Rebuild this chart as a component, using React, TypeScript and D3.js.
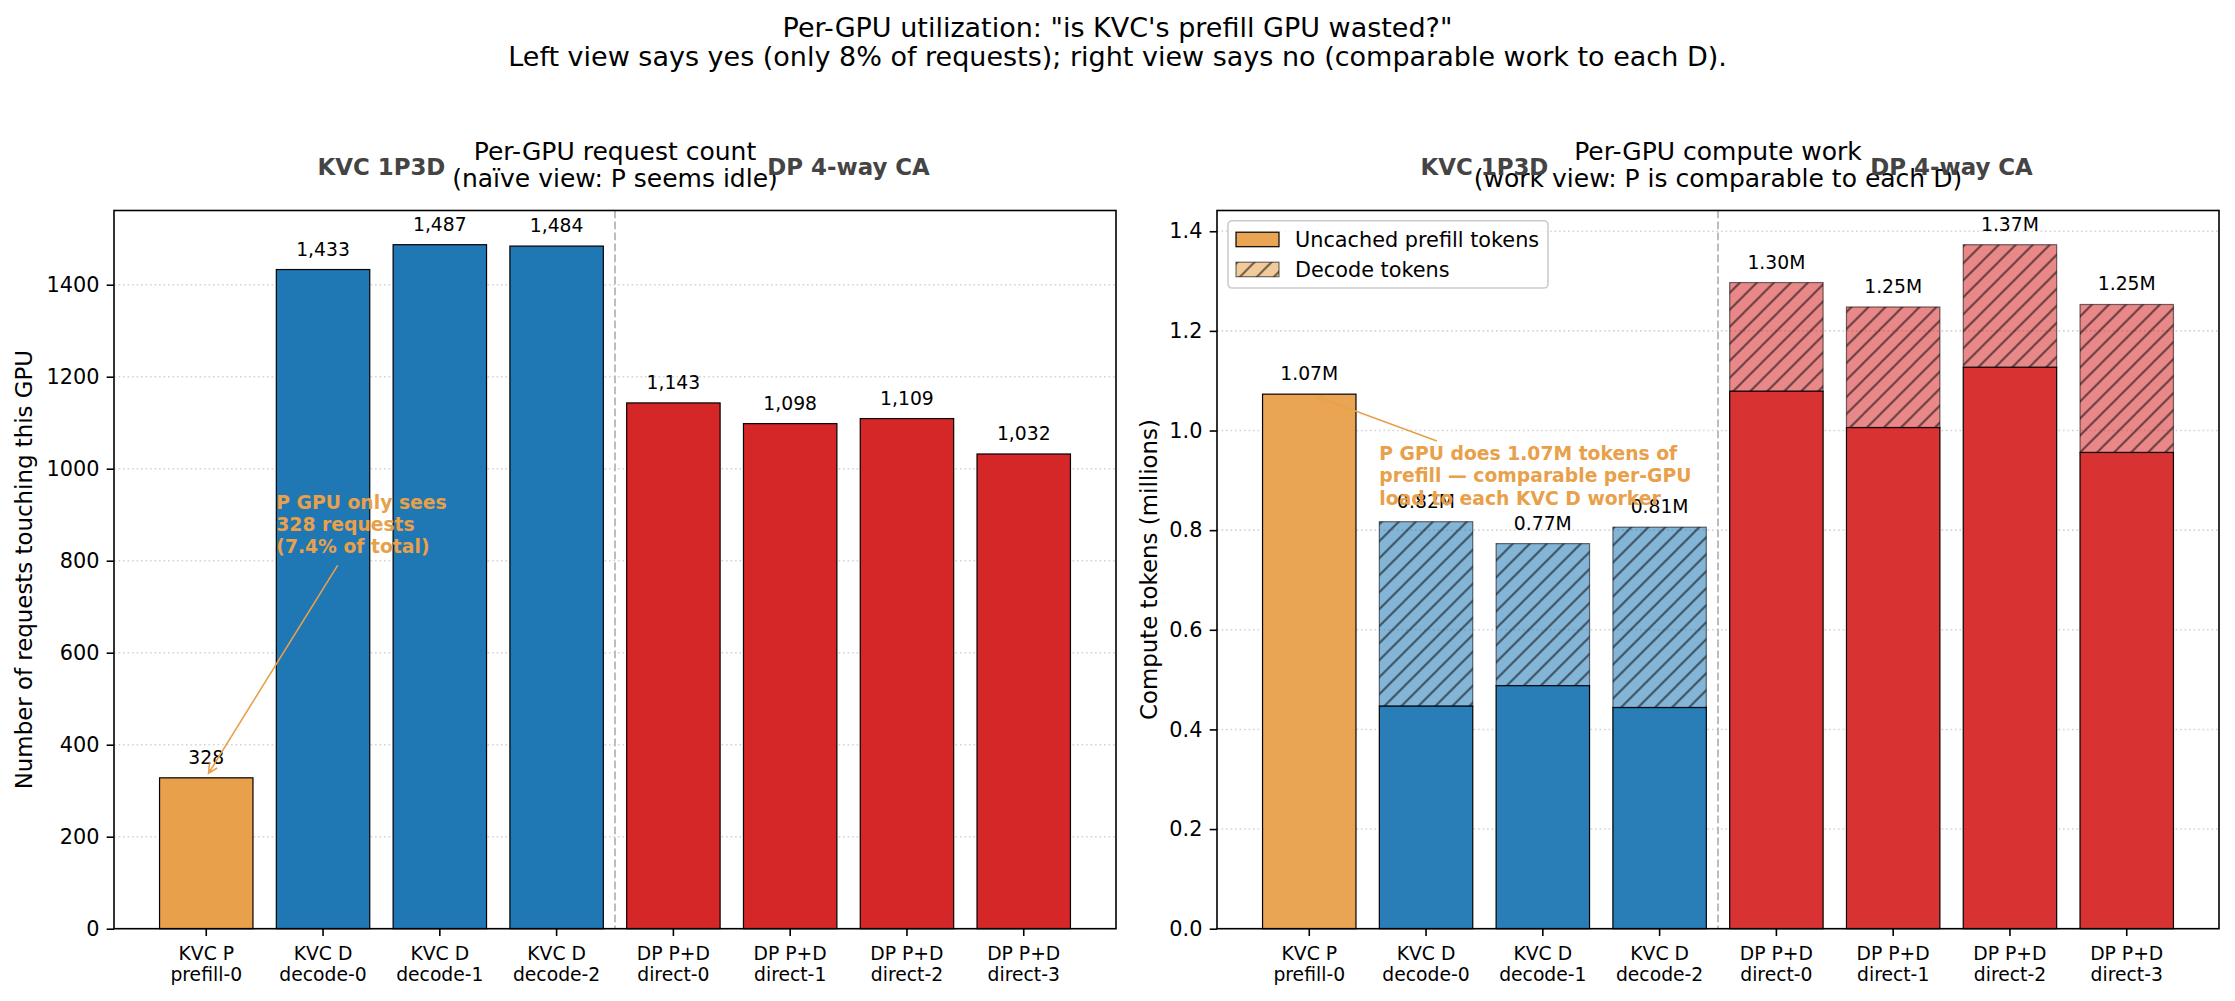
import React, { useEffect, useRef } from 'react';
import * as d3 from 'd3';

// workers, in plotting order
const tickTop = ['KVC P', 'KVC D', 'KVC D', 'KVC D', 'DP P+D', 'DP P+D', 'DP P+D', 'DP P+D'];
const tickBottom = ['prefill-0', 'decode-0', 'decode-1', 'decode-2', 'direct-0', 'direct-1', 'direct-2', 'direct-3'];
const workerKind = ['prefill', 'decode', 'decode', 'decode', 'direct', 'direct', 'direct', 'direct'];

// requests that touched each GPU
const requestCounts = [328, 1433, 1487, 1484, 1143, 1098, 1109, 1032];
const prefillSharePct = 7.4;

// compute work per GPU, millions of tokens
const prefillTokensM = [1.073, 0.447, 0.488, 0.444, 1.079, 1.006, 1.127, 0.956];
const decodeTokensM = [0, 0.37, 0.285, 0.362, 0.218, 0.242, 0.246, 0.297];

const requestTicks = [0, 200, 400, 600, 800, 1000, 1200, 1400];
const tokenTicks = [0, 0.2, 0.4, 0.6, 0.8, 1.0, 1.2, 1.4];

const kindColor: Record<string, string> = {
  prefill: '#e8a04a',
  decode: '#1f77b4',
  direct: '#d62728',
};
const ORANGE = '#e8a04a';
const FONT = '"DejaVu Sans", Verdana, sans-serif';

const W = 2235;
const H = 1001;
const panelTop = 210.5;
const panelH = 718.2;
const panelW = 1002;
const leftX0 = 114;
const rightX0 = 1217;

const App = () => {
  const ref = useRef<SVGSVGElement>(null);

  useEffect(() => {
    const svg = d3.select(ref.current);
    svg.selectAll('*').remove();

    svg.append('rect').attr('width', W).attr('height', H).attr('fill', '#fff');

    const defs = svg.append('defs');
    const hatch = defs
      .append('pattern')
      .attr('id', 'hatch')
      .attr('patternUnits', 'userSpaceOnUse')
      .attr('width', 17)
      .attr('height', 17);
    hatch
      .append('path')
      .attr('d', 'M-4,4 L4,-4 M0,17 L17,0 M13,21 L21,13')
      .attr('stroke', '#000')
      .attr('stroke-opacity', 0.55)
      .attr('stroke-width', 2);

    const x = d3.scaleLinear().domain([-0.79, 7.79]).range([0, panelW]);
    const bw = x(0.8) - x(0);
    const idx = d3.range(tickTop.length);

    // figure title
    const title = svg
      .append('text')
      .attr('x', W / 2)
      .attr('text-anchor', 'middle')
      .attr('font-family', FONT)
      .attr('font-size', 27)
      .attr('fill', '#000');
    title.append('tspan').attr('x', W / 2).attr('y', 37).text('Per-GPU utilization: "is KVC\'s prefill GPU wasted?"');
    title
      .append('tspan')
      .attr('x', W / 2)
      .attr('y', 66)
      .text('Left view says yes (only 8% of requests); right view says no (comparable work to each D).');

    const arrow = (
      g: d3.Selection<SVGGElement, unknown, null, undefined>,
      x1: number,
      y1: number,
      x2: number,
      y2: number,
    ) => {
      const a = Math.atan2(y2 - y1, x2 - x1);
      const hl = 9;
      const hw = 4.5;
      const p1 = [x2 - hl * Math.cos(a) + hw * Math.sin(a), y2 - hl * Math.sin(a) - hw * Math.cos(a)];
      const p2 = [x2 - hl * Math.cos(a) - hw * Math.sin(a), y2 - hl * Math.sin(a) + hw * Math.cos(a)];
      g.append('path')
        .attr('d', `M${x1},${y1}L${x2},${y2}M${p1[0]},${p1[1]}L${x2},${y2}L${p2[0]},${p2[1]}`)
        .attr('fill', 'none')
        .attr('stroke', ORANGE)
        .attr('stroke-width', 1.6);
    };

    const panel = (
      left: number,
      y: d3.ScaleLinear<number, number>,
      ticks: number[],
      tickFmt: (v: number) => string,
      ylabel: string,
      ylabelX: number,
      titleLines: string[],
    ) => {
      const g = svg.append('g').attr('transform', `translate(${left},${panelTop})`);

      // dotted horizontal grid
      g.append('g')
        .selectAll('line')
        .data(ticks)
        .join('line')
        .attr('x1', 0)
        .attr('x2', panelW)
        .attr('y1', (d) => y(d))
        .attr('y2', (d) => y(d))
        .attr('stroke', '#d6d6d6')
        .attr('stroke-width', 1.6)
        .attr('stroke-dasharray', '1.7,2.8');

      // titles
      const t = g
        .append('text')
        .attr('text-anchor', 'middle')
        .attr('font-family', FONT)
        .attr('font-size', 25)
        .attr('fill', '#000');
      titleLines.forEach((line, i) => {
        t.append('tspan')
          .attr('x', panelW / 2)
          .attr('y', 160 + i * 27 - panelTop)
          .text(line);
      });

      // y label
      svg
        .append('text')
        .attr('transform', `translate(${ylabelX},${panelTop + panelH / 2}) rotate(-90)`)
        .attr('text-anchor', 'middle')
        .attr('dominant-baseline', 'central')
        .attr('font-family', FONT)
        .attr('font-size', 22.9)
        .text(ylabel);

      // y axis ticks
      const yAxis = g
        .append('g')
        .call(
          d3
            .axisLeft(y)
            .tickValues(ticks)
            .tickFormat((d) => tickFmt(d as number))
            .tickSize(7.3)
            .tickPadding(7.3)
            .tickSizeOuter(0),
        );
      yAxis.select('.domain').remove();
      yAxis.selectAll('line').attr('stroke', '#000').attr('stroke-width', 1.6);
      yAxis.selectAll('text').attr('font-family', FONT).attr('font-size', 20.8).attr('fill', '#000');

      // x axis ticks with two-line labels
      const xTicks = g.append('g').attr('transform', `translate(0,${panelH})`);
      xTicks
        .selectAll('line')
        .data(idx)
        .join('line')
        .attr('x1', (d) => x(d))
        .attr('x2', (d) => x(d))
        .attr('y1', 0)
        .attr('y2', 7.3)
        .attr('stroke', '#000')
        .attr('stroke-width', 1.6);
      const xt = xTicks
        .selectAll('text')
        .data(idx)
        .join('text')
        .attr('text-anchor', 'middle')
        .attr('font-family', FONT)
        .attr('font-size', 18.75)
        .attr('fill', '#000');
      xt.append('tspan')
        .attr('x', (d) => x(d))
        .attr('y', 31.5)
        .text((d) => tickTop[d]);
      xt.append('tspan')
        .attr('x', (d) => x(d))
        .attr('y', 52.5)
        .text((d) => tickBottom[d]);

      // group headers over each deployment
      const groups = [
        { label: 'KVC 1P3D', at: 1.5 },
        { label: 'DP 4-way CA', at: 5.5 },
      ];
      g.append('g')
        .selectAll('text')
        .data(groups)
        .join('text')
        .attr('x', (d) => x(d.at))
        .attr('y', 175 - panelTop)
        .attr('text-anchor', 'middle')
        .attr('font-family', FONT)
        .attr('font-size', 22.9)
        .attr('font-weight', 'bold')
        .attr('fill', '#444')
        .text((d) => d.label);

      return g;
    };

    const separator = (g: d3.Selection<SVGGElement, unknown, null, undefined>) => {
      // dashed divider between KVC and DP workers
      g.append('line')
        .attr('x1', x(3.5))
        .attr('x2', x(3.5))
        .attr('y1', 0)
        .attr('y2', panelH)
        .attr('stroke', '#bdbdbd')
        .attr('stroke-width', 2)
        .attr('stroke-dasharray', '7.7,3.3');
    };

    const frame = (g: d3.Selection<SVGGElement, unknown, null, undefined>) => {
      g.append('rect')
        .attr('width', panelW)
        .attr('height', panelH)
        .attr('fill', 'none')
        .attr('stroke', '#000')
        .attr('stroke-width', 1.6);
    };

    // ---------- left: request count ----------
    const yL = d3
      .scaleLinear()
      .domain([0, (d3.max(requestCounts) as number) * 1.05])
      .range([panelH, 0]);
    const gL = panel(
      leftX0,
      yL,
      requestTicks,
      (v) => String(v),
      'Number of requests touching this GPU',
      24,
      ['Per-GPU request count', '(naïve view: P seems idle)'],
    );
    separator(gL);

    gL.append('g')
      .selectAll('rect')
      .data(idx)
      .join('rect')
      .attr('x', (d) => x(d) - bw / 2)
      .attr('y', (d) => yL(requestCounts[d]))
      .attr('width', bw)
      .attr('height', (d) => panelH - yL(requestCounts[d]))
      .attr('fill', (d) => kindColor[workerKind[d]])
      .attr('stroke', '#000')
      .attr('stroke-width', 1.2);

    gL.append('g')
      .selectAll('text')
      .data(idx)
      .join('text')
      .attr('x', (d) => x(d))
      .attr('y', (d) => yL(requestCounts[d]) - 14)
      .attr('text-anchor', 'middle')
      .attr('font-family', FONT)
      .attr('font-size', 18.75)
      .text((d) => d3.format(',')(requestCounts[d]));

    const noteL = gL
      .append('text')
      .attr('font-family', FONT)
      .attr('font-size', 18.75)
      .attr('font-weight', 'bold')
      .attr('fill', ORANGE);
    [
      'P GPU only sees',
      `${requestCounts[0]} requests`,
      `(${prefillSharePct.toFixed(1)}% of total)`,
    ].forEach((line, i) => {
      noteL
        .append('tspan')
        .attr('x', x(0.6))
        .attr('y', yL(912) + i * 22)
        .text(line);
    });
    arrow(gL, x(1.125), yL(790), x(0.02), yL(338));
    frame(gL);

    // ---------- right: compute work ----------
    const totals = idx.map((i) => prefillTokensM[i] + decodeTokensM[i]);
    const yR = d3
      .scaleLinear()
      .domain([0, (d3.max(totals) as number) * 1.05])
      .range([panelH, 0]);
    const gR = panel(
      rightX0,
      yR,
      tokenTicks,
      (v) => v.toFixed(1),
      'Compute tokens (millions)',
      1149,
      ['Per-GPU compute work', '(work view: P is comparable to each D)'],
    );
    separator(gR);

    // prefill segments
    gR.append('g')
      .selectAll('rect')
      .data(idx)
      .join('rect')
      .attr('x', (d) => x(d) - bw / 2)
      .attr('y', (d) => yR(prefillTokensM[d]))
      .attr('width', bw)
      .attr('height', (d) => panelH - yR(prefillTokensM[d]))
      .attr('fill', (d) => kindColor[workerKind[d]])
      .attr('fill-opacity', 0.95)
      .attr('stroke', '#000')
      .attr('stroke-width', 1.2);

    // decode segments stacked on top, hatched
    const withDecode = idx.filter((i) => decodeTokensM[i] > 0);
    const dec = gR.append('g');
    dec
      .selectAll('rect.fill')
      .data(withDecode)
      .join('rect')
      .attr('class', 'fill')
      .attr('x', (d) => x(d) - bw / 2)
      .attr('y', (d) => yR(totals[d]))
      .attr('width', bw)
      .attr('height', (d) => yR(prefillTokensM[d]) - yR(totals[d]))
      .attr('fill', (d) => kindColor[workerKind[d]])
      .attr('fill-opacity', 0.55);
    dec
      .selectAll('rect.hatch')
      .data(withDecode)
      .join('rect')
      .attr('class', 'hatch')
      .attr('x', (d) => x(d) - bw / 2)
      .attr('y', (d) => yR(totals[d]))
      .attr('width', bw)
      .attr('height', (d) => yR(prefillTokensM[d]) - yR(totals[d]))
      .attr('fill', 'url(#hatch)')
      .attr('stroke', '#000')
      .attr('stroke-opacity', 0.55)
      .attr('stroke-width', 1.2);

    gR.append('g')
      .selectAll('text')
      .data(idx)
      .join('text')
      .attr('x', (d) => x(d))
      .attr('y', (d) => yR(totals[d]) - 14)
      .attr('text-anchor', 'middle')
      .attr('font-family', FONT)
      .attr('font-size', 18.75)
      .text((d) => `${totals[d].toFixed(2)}M`);

    const noteR = gR
      .append('text')
      .attr('font-family', FONT)
      .attr('font-size', 18.75)
      .attr('font-weight', 'bold')
      .attr('fill', ORANGE);
    [
      `P GPU does ${totals[0].toFixed(2)}M tokens of`,
      'prefill — comparable per-GPU',
      'load to each KVC D worker',
    ].forEach((line, i) => {
      noteR
        .append('tspan')
        .attr('x', x(0.6))
        .attr('y', yR(0.941) + i * 22.5)
        .text(line);
    });
    arrow(gR, x(1.093), yR(0.979), x(0.064), yR(1.068));

    // legend
    const lg = svg.append('g').attr('transform', 'translate(1228,220.7)');
    lg.append('rect')
      .attr('width', 320)
      .attr('height', 67.3)
      .attr('rx', 4)
      .attr('fill', '#fff')
      .attr('fill-opacity', 0.8)
      .attr('stroke', '#cccccc')
      .attr('stroke-width', 1.6);
    lg.append('rect')
      .attr('x', 8)
      .attr('y', 11.5)
      .attr('width', 43)
      .attr('height', 14.5)
      .attr('fill', ORANGE)
      .attr('fill-opacity', 0.95)
      .attr('stroke', '#000')
      .attr('stroke-width', 1.2);
    lg.append('rect')
      .attr('x', 8)
      .attr('y', 41.5)
      .attr('width', 43)
      .attr('height', 14.5)
      .attr('fill', ORANGE)
      .attr('fill-opacity', 0.55);
    lg.append('rect')
      .attr('x', 8)
      .attr('y', 41.5)
      .attr('width', 43)
      .attr('height', 14.5)
      .attr('fill', 'url(#hatch)')
      .attr('stroke', '#000')
      .attr('stroke-opacity', 0.55)
      .attr('stroke-width', 1.2);
    lg.selectAll('text.lbl')
      .data(['Uncached prefill tokens', 'Decode tokens'])
      .join('text')
      .attr('class', 'lbl')
      .attr('x', 67)
      .attr('y', (_d, i) => 26 + i * 30)
      .attr('font-family', FONT)
      .attr('font-size', 20.8)
      .text((d) => d);

    frame(gR);
  }, []);

  return (
    <svg
      ref={ref}
      width={W}
      height={H}
      style={{ position: 'absolute', left: 0, top: 0, display: 'block' }}
    />
  );
};

export default App;
